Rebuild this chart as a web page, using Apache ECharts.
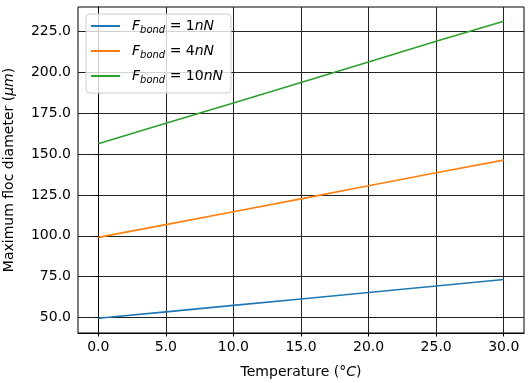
<!DOCTYPE html>
<html><head><meta charset="utf-8">
<script src="https://cdn.jsdelivr.net/npm/echarts@6/dist/echarts.min.js"></script>
<style>html,body{margin:0;padding:0;background:#fff}#c{width:531px;height:383px}</style>
</head><body><div id="c"></div>
<script>
var temperatures = [0, 5, 10, 15, 20, 25, 30];
var force1 = [49.5, 53.4, 57.4, 61.3, 65.3, 69.3, 73.2];
var force4 = [99.0, 106.8, 114.7, 122.6, 130.6, 138.6, 146.3];
var force10 = [156.3, 168.8, 181.3, 193.8, 206.4, 219.0, 231.3];
var forceLabels = ['1', '4', '10'];
var xTicks = [0, 5, 10, 15, 20, 25, 30];
var yTicks = [50, 75, 100, 125, 150, 175, 200, 225];

var FONT = 'DejaVu Sans';
var colors = ['#1f77b4', '#ff7f0e', '#2ca02c'];
var seriesData = [force1, force4, force10];
function pairs(arr) { return temperatures.map(function (t, i) { return [t, arr[i]]; }); }
var names = forceLabels.map(function (f) { return 'F_bond=' + f + 'nN'; });

var chart = echarts.init(document.getElementById('c'), null, {renderer: 'canvas'});
var axisCommon = {
  type: 'value',
  axisLine: {show: true, lineStyle: {color: '#000', width: 1}},
  axisTick: {show: true, inside: false, length: 3.5, lineStyle: {color: '#000', width: 1}},
  splitLine: {show: true, lineStyle: {color: '#222', width: 1}},
  axisLabel: {color: '#000', fontFamily: FONT, fontSize: 14, formatter: function (v) { return v.toFixed(1); }}
};
var rich = {
  it: {fontFamily: FONT, fontSize: 14, fontStyle: 'italic', color: '#000'},
  up: {fontFamily: FONT, fontSize: 14, color: '#000'},
  sub: {fontFamily: FONT, fontSize: 10, fontStyle: 'italic', color: '#000', padding: [8, 0, 0, 0]},
  pad: {width: 7}
};
var option = {
  animation: false,
  backgroundColor: '#fff',
  color: colors,
  grid: {left: 78, right: 7, top: 7, bottom: 50, show: true, borderColor: '#000', borderWidth: 1,
         containLabel: false, outerBoundsMode: 'none'},
  xAxis: Object.assign({}, axisCommon, {
    min: -1.5, max: 31.5,
    axisTick: Object.assign({}, axisCommon.axisTick, {customValues: xTicks}),
    axisLabel: Object.assign({}, axisCommon.axisLabel, {customValues: xTicks, margin: 7}),
    name: '{up|Temperature (°}{it|C}{up|)}',
    nameLocation: 'middle', nameGap: 32,
    nameTextStyle: {rich: rich}
  }),
  yAxis: Object.assign({}, axisCommon, {
    min: 40.5, max: 240,
    axisTick: Object.assign({}, axisCommon.axisTick, {customValues: yTicks}),
    axisLabel: Object.assign({}, axisCommon.axisLabel, {customValues: yTicks, margin: 7}),
    name: '{up|Maximum floc diameter (}{it|μm}{up|)}',
    nameLocation: 'middle', nameGap: 62,
    nameTextStyle: {rich: rich}
  }),
  legend: {
    orient: 'vertical', left: 86, top: 14,
    padding: [5, 8, 8, 4],
    itemWidth: 29, itemHeight: 14, itemGap: 9,
    itemStyle: {opacity: 0},
    backgroundColor: 'rgba(255,255,255,0.8)', borderColor: '#ccc', borderWidth: 1, borderRadius: 4,
    formatter: function (name) {
      var f = name.replace('F_bond=', '').replace('nN', '');
      return '{pad|}{it|F}{sub|bond}{up| = ' + f + '}{it|nN}';
    },
    textStyle: {rich: rich}
  },
  series: seriesData.map(function (d, i) {
    return {
      name: names[i], type: 'line', data: pairs(d), symbol: 'none', showSymbol: false,
      lineStyle: {width: 1.6, color: colors[i]}, itemStyle: {color: colors[i]}
    };
  })
};
chart.setOption(option);
</script></body></html>
